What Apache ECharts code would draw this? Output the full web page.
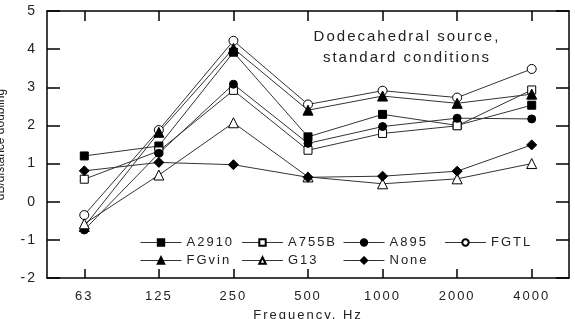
<!DOCTYPE html>
<html>
<head>
<meta charset="utf-8">
<script src="https://cdn.jsdelivr.net/npm/echarts@6/dist/echarts.min.js"></script>
<style>
  html, body { margin: 0; padding: 0; background: #fff; }
  #chart { width: 575px; height: 319px; }
</style>
</head>
<body>
<div id="chart"></div>
<script>
// frequency bands (Hz)
const freqs = ['63', '125', '250', '500', '1000', '2000', '4000']
// dB per distance doubling
const a2910 = [1.2, 1.46, 3.92, 1.70, 2.29, 2.0, 2.53]
const a755b = [0.59, 1.33, 2.92, 1.35, 1.79, 1.99, 2.93]
const a895 = [-0.74, 1.27, 3.08, 1.53, 1.97, 2.19, 2.17]
const fgtl = [-0.35, 1.88, 4.22, 2.55, 2.91, 2.73, 3.48]
const fgvin = [-0.65, 1.82, 4.02, 2.40, 2.77, 2.58, 2.82]
const g13 = [-0.58, 0.70, 2.07, 0.65, 0.47, 0.60, 1.00]
const none = [0.81, 1.03, 0.97, 0.64, 0.67, 0.80, 1.49]
// legend columns (two rows)
const legendCols = [['A2910', 'FGvin'], ['A755B', 'G13'], ['A895', 'None'], ['FGTL']]

const font = 'Liberation Sans'

// wide tracking like the original figure (the y axis name, set in Arial, keeps normal spacing)
const fillText = CanvasRenderingContext2D.prototype.fillText
CanvasRenderingContext2D.prototype.fillText = function (t, x, y, w) {
  this.letterSpacing = /Arial/.test(this.font) ? '0px' : '2px'
  return w === undefined ? fillText.call(this, t, x, y) : fillText.call(this, t, x, y, w)
}

function black () {
  return { color: '#000', width: 1.5 }
}

function line (name, data, symbol, size, filled) {
  return {
    name: name,
    type: 'line',
    data: data,
    symbol: symbol,
    symbolSize: size,
    showAllSymbol: true,
    lineStyle: { color: '#333', width: 1 },
    itemStyle: { color: filled ? '#000' : '#fff', borderColor: '#000', borderWidth: 1 },
    emphasis: { disabled: true },
    animation: false
  }
}

const chart = echarts.init(document.getElementById('chart'), null, { renderer: 'canvas' })
chart.setOption({
  animation: false,
  textStyle: { fontFamily: font, color: '#222' },
  grid: {
    left: 47, right: 6, top: 11, bottom: 41,
    outerBoundsMode: 'none',
    containLabel: false
  },
  title: {
    text: 'Dodecahedral source,\nstandard conditions',
    left: 402,
    top: 21,
    textAlign: 'center',
    textStyle: { fontFamily: font, fontSize: 15, fontWeight: 'normal', color: '#222', lineHeight: 21 }
  },
  legend: legendCols.map((col, i) => ({
    orient: 'vertical',
    left: 135 + i * 101.5,
    top: 231,
    itemWidth: 41,
    itemHeight: 8,
    itemGap: 5,
    lineStyle: { width: 1, color: '#333' },
    textStyle: { fontFamily: font, fontSize: 13, color: '#222' },
    data: col
  })),
  xAxis: [{
    type: 'category',
    data: freqs,
    boundaryGap: true,
    name: 'Frequency, Hz',
    nameLocation: 'middle',
    nameGap: 31,
    nameTextStyle: { fontFamily: font, fontSize: 13, color: '#222' },
    axisLine: { show: true, onZero: false, lineStyle: black() },
    axisTick: { show: true, inside: true, alignWithLabel: true, length: 9, lineStyle: black() },
    axisLabel: { margin: 12, fontSize: 13, color: '#222' },
    splitLine: { show: false }
  }, {
    type: 'category',
    data: freqs,
    position: 'top',
    boundaryGap: true,
    axisLine: { show: true, onZero: false, lineStyle: black() },
    axisTick: { show: true, inside: true, alignWithLabel: true, length: 10, lineStyle: black() },
    axisLabel: { show: false },
    splitLine: { show: false }
  }],
  yAxis: [{
    type: 'value',
    min: -2,
    max: 5,
    interval: 1,
    name: 'dB/distance doubling',
    nameLocation: 'middle',
    nameGap: 40,
    nameTextStyle: { fontFamily: 'Arial', fontSize: 12, color: '#222' },
    axisLine: { show: true, onZero: false, lineStyle: black() },
    axisTick: { show: true, inside: true, length: 13, lineStyle: black() },
    axisLabel: { margin: 10, fontSize: 14, color: '#222' },
    splitLine: { show: false }
  }, {
    type: 'value',
    min: -2,
    max: 5,
    interval: 1,
    position: 'right',
    axisLine: { show: true, onZero: false, lineStyle: black() },
    axisTick: { show: true, inside: true, length: 13, lineStyle: black() },
    axisLabel: { show: false },
    splitLine: { show: false }
  }],
  series: [
    line('A2910', a2910, 'rect', 8, true),
    line('A755B', a755b, 'rect', 8, false),
    line('A895', a895, 'circle', 8, true),
    line('FGTL', fgtl, 'circle', 9, false),
    line('FGvin', fgvin, 'triangle', 10, true),
    line('G13', g13, 'triangle', 10, false),
    line('None', none, 'diamond', 10, true)
  ]
})
</script>
</body>
</html>
